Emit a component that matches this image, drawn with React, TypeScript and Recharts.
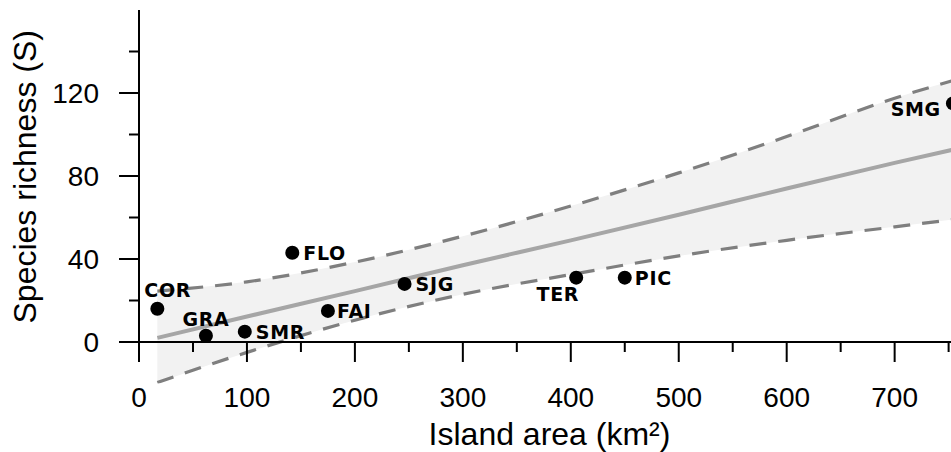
import React from 'react';
import { ComposedChart, XAxis, YAxis, Area, Line, Scatter, ReferenceLine } from 'recharts';

// islands, area (km2) and species richness
const islands = ['COR', 'GRA', 'SMR', 'FLO', 'FAI', 'SJG', 'TER', 'PIC', 'SMG'];
const area = [17, 62, 98, 142, 175, 246, 405, 450, 754];
const richness = [16, 3, 5, 43, 15, 28, 31, 31, 115];

// regression line and its confidence band, read at a few areas
const fitArea = [17, 100, 200, 300, 400, 500, 600, 700, 754];
const fitMean = [2, 12.3, 24.5, 37, 49, 61.3, 74, 86.3, 92.7];
const fitUpper = [24.5, 29, 38.5, 51, 65.5, 81.5, 99, 117.5, 126];
const fitLower = [-19.5, -5, 10.5, 23, 32.5, 41.5, 49, 55.5, 59];

const xTicks = [0, 100, 200, 300, 400, 500, 600, 700];
const xMinorTicks = [50, 150, 250, 350, 450, 550, 650, 750];
const yTicks = [0, 40, 80, 120];
const yMinorTicks = [20, 60, 100, 140];

const points = islands.map((name, i) => ({ name, x: area[i], y: richness[i] }));
const band = fitArea.map((x, i) => ({ x, mean: fitMean[i], lower: fitLower[i], upper: fitUpper[i] }));

const sans = '"Liberation Sans", Arial, sans-serif';
const labelFont = '"DejaVu Sans", Verdana, sans-serif';

// where each island's name sits relative to its dot
const labelPlacement: Record<string, { dx: number; dy: number; anchor: 'start' | 'middle' | 'end' }> = {
  COR: { dx: -13, dy: -19, anchor: 'start' },
  GRA: { dx: 0, dy: -17, anchor: 'middle' },
  SMR: { dx: 11, dy: 0, anchor: 'start' },
  FLO: { dx: 11, dy: 0, anchor: 'start' },
  FAI: { dx: 9, dy: 0, anchor: 'start' },
  SJG: { dx: 11, dy: 0, anchor: 'start' },
  TER: { dx: 3, dy: 16, anchor: 'end' },
  PIC: { dx: 10, dy: 0, anchor: 'start' },
  SMG: { dx: -12, dy: 6, anchor: 'end' },
};

const IslandDot = (props: any) => {
  const { cx, cy, payload } = props;
  const p = labelPlacement[payload.name];
  return (
    <g>
      <circle cx={cx} cy={cy} r={7} fill="#000" />
      <text
        x={cx + p.dx}
        y={cy + p.dy + 7}
        textAnchor={p.anchor}
        fontFamily={labelFont}
        fontWeight="bold"
        fontSize={19}
        letterSpacing={0.7}
        fill="#000"
      >
        {payload.name}
      </text>
    </g>
  );
};

const X_TICK = 9.64; // 20px in y units
const Y_TICK = 18.5; // 20px in x units

export default function App() {
  return (
    <div style={{ position: 'absolute', left: 0, top: 0, width: 951, height: 452, overflow: 'hidden', background: '#fff' }}>
      <ComposedChart width={981} height={452} margin={{ top: 10, right: 0, bottom: 28.5, left: 39 }}>
        <XAxis
          type="number"
          dataKey="x"
          domain={[0, 780]}
          allowDataOverflow
          ticks={xTicks}
          axisLine={false}
          tickLine={false}
          tickSize={0}
          tickMargin={4}
          height={40}
          tick={{ fill: '#000', fontSize: 28, fontFamily: sans }}
          label={{
            content: (props: any) => {
              const vb = props.viewBox;
              return (
                <text x={549.5} y={vb.y + vb.height + 21.5} textAnchor="middle" fontFamily={sans} fontSize={32} fill="#000">
                  Island area (km²)
                </text>
              );
            },
          }}
        />
        <YAxis
          type="number"
          domain={[-20, 160]}
          allowDataOverflow
          ticks={yTicks}
          axisLine={false}
          tickLine={false}
          tickSize={0}
          tickMargin={40}
          width={100}
          tick={{ fill: '#000', fontSize: 28, fontFamily: sans }}
          label={{
            content: (props: any) => {
              const vb = props.viewBox;
              const x = vb.x - 3;
              const y = vb.y + vb.height / 2 - 20;
              return (
                <text x={x} y={y} transform={`rotate(-90, ${x}, ${y})`} textAnchor="middle" fontFamily={sans} fontSize={32} fill="#000">
                  Species richness (S)
                </text>
              );
            },
          }}
        />

        <Area
          data={band}
          type="monotone"
          dataKey={(d: any) => [d.lower, d.upper]}
          stroke="none"
          fill="#f2f2f2"
          fillOpacity={1}
          isAnimationActive={false}
          activeDot={false}
        />
        <Line data={band} type="monotone" dataKey="upper" stroke="#7f7f7f" strokeWidth={3.2} strokeDasharray="17 12" dot={false} activeDot={false} isAnimationActive={false} />
        <Line data={band} type="monotone" dataKey="lower" stroke="#7f7f7f" strokeWidth={3.2} strokeDasharray="17 12" dot={false} activeDot={false} isAnimationActive={false} />
        <Line data={band} type="monotone" dataKey="mean" stroke="#a6a6a6" strokeWidth={4} dot={false} activeDot={false} isAnimationActive={false} />

        <ReferenceLine segment={[{ x: -Y_TICK, y: 0 }, { x: 780, y: 0 }]} stroke="#000" strokeWidth={2} ifOverflow="visible" />
        <ReferenceLine segment={[{ x: 0, y: -X_TICK }, { x: 0, y: 160 }]} stroke="#000" strokeWidth={2} ifOverflow="visible" />
        {xTicks.map((t) => (
          <ReferenceLine key={`xt${t}`} segment={[{ x: t, y: 0 }, { x: t, y: -X_TICK }]} stroke="#000" strokeWidth={2} ifOverflow="visible" />
        ))}
        {xMinorTicks.map((t) => (
          <ReferenceLine key={`xm${t}`} segment={[{ x: t, y: 0 }, { x: t, y: -X_TICK / 2 }]} stroke="#000" strokeWidth={2} ifOverflow="visible" />
        ))}
        {yTicks.map((t) => (
          <ReferenceLine key={`yt${t}`} segment={[{ x: 0, y: t }, { x: -Y_TICK, y: t }]} stroke="#000" strokeWidth={2} ifOverflow="visible" />
        ))}
        {yMinorTicks.map((t) => (
          <ReferenceLine key={`ym${t}`} segment={[{ x: 0, y: t }, { x: -Y_TICK / 2, y: t }]} stroke="#000" strokeWidth={2} ifOverflow="visible" />
        ))}

        <Scatter data={points} dataKey="y" shape={IslandDot} isAnimationActive={false} />
      </ComposedChart>
    </div>
  );
}
